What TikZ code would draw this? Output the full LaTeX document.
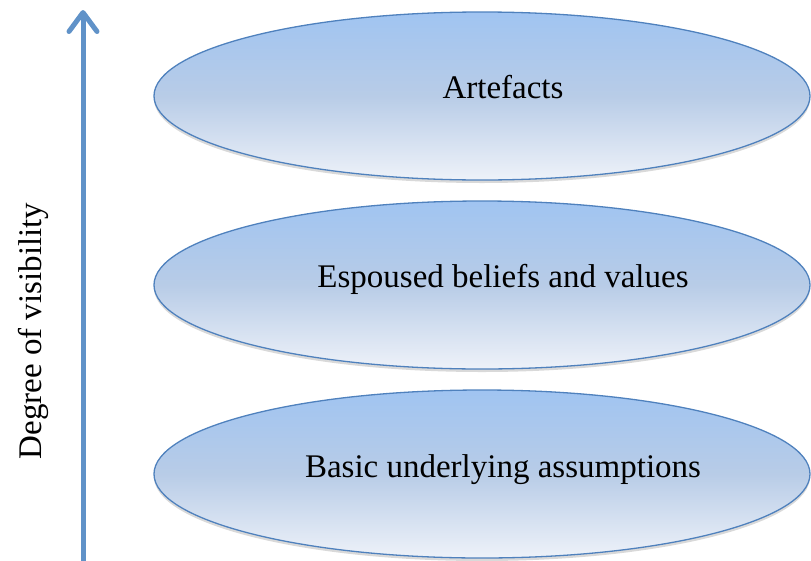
\documentclass[tikz,border=0pt]{standalone}
\usepackage{fontspec}
\setmainfont{Liberation Serif}
\usetikzlibrary{shapes.geometric,arrows.meta,shadows}
\definecolor{edgeblue}{RGB}{79,129,189}
\definecolor{arrowblue}{RGB}{96,146,200}
\definecolor{topfill}{RGB}{160,196,241}
\definecolor{midfill}{RGB}{184,204,231}
\definecolor{botfill}{RGB}{238,242,249}
\tikzset{
  layer/.style={ellipse, draw=edgeblue, line width=1.3pt, inner sep=0pt,
    minimum width=656pt, minimum height=168pt,
    top color=topfill, bottom color=botfill, middle color=midfill,
    drop shadow={shadow xshift=0pt, shadow yshift=-3pt, opacity=0.25, fill=black!60}},
  layertext/.style={font=\fontsize{33}{38}\selectfont, text=black},
  visarrow/.style={draw=arrowblue, line width=5pt,
    -{Straight Barb[length=19pt,width=28pt,round]}}
}
\begin{document}
\begin{tikzpicture}[x=1pt,y=-1pt]
\useasboundingbox (0,0) rectangle (811,560);
\node[layer] (e1) at (482,96) {};
\node[layer] (e2) at (482,285) {};
\node[layer] (e3) at (482,474) {};
\node[layertext] (t1) at (503,87) {Artefacts};
\node[layertext] (t2) at (503,279) {Espoused beliefs and values};
\node[layertext] (t3) at (503,470) {Basic underlying assumptions};
\coordinate (abot) at (83,562);
\coordinate (atop) at (83,10);
\draw[visarrow] (abot) -- (atop);
\node[layertext, rotate=90] (vis) at (33,331) {Degree of visibility};
\end{tikzpicture}
\end{document}
